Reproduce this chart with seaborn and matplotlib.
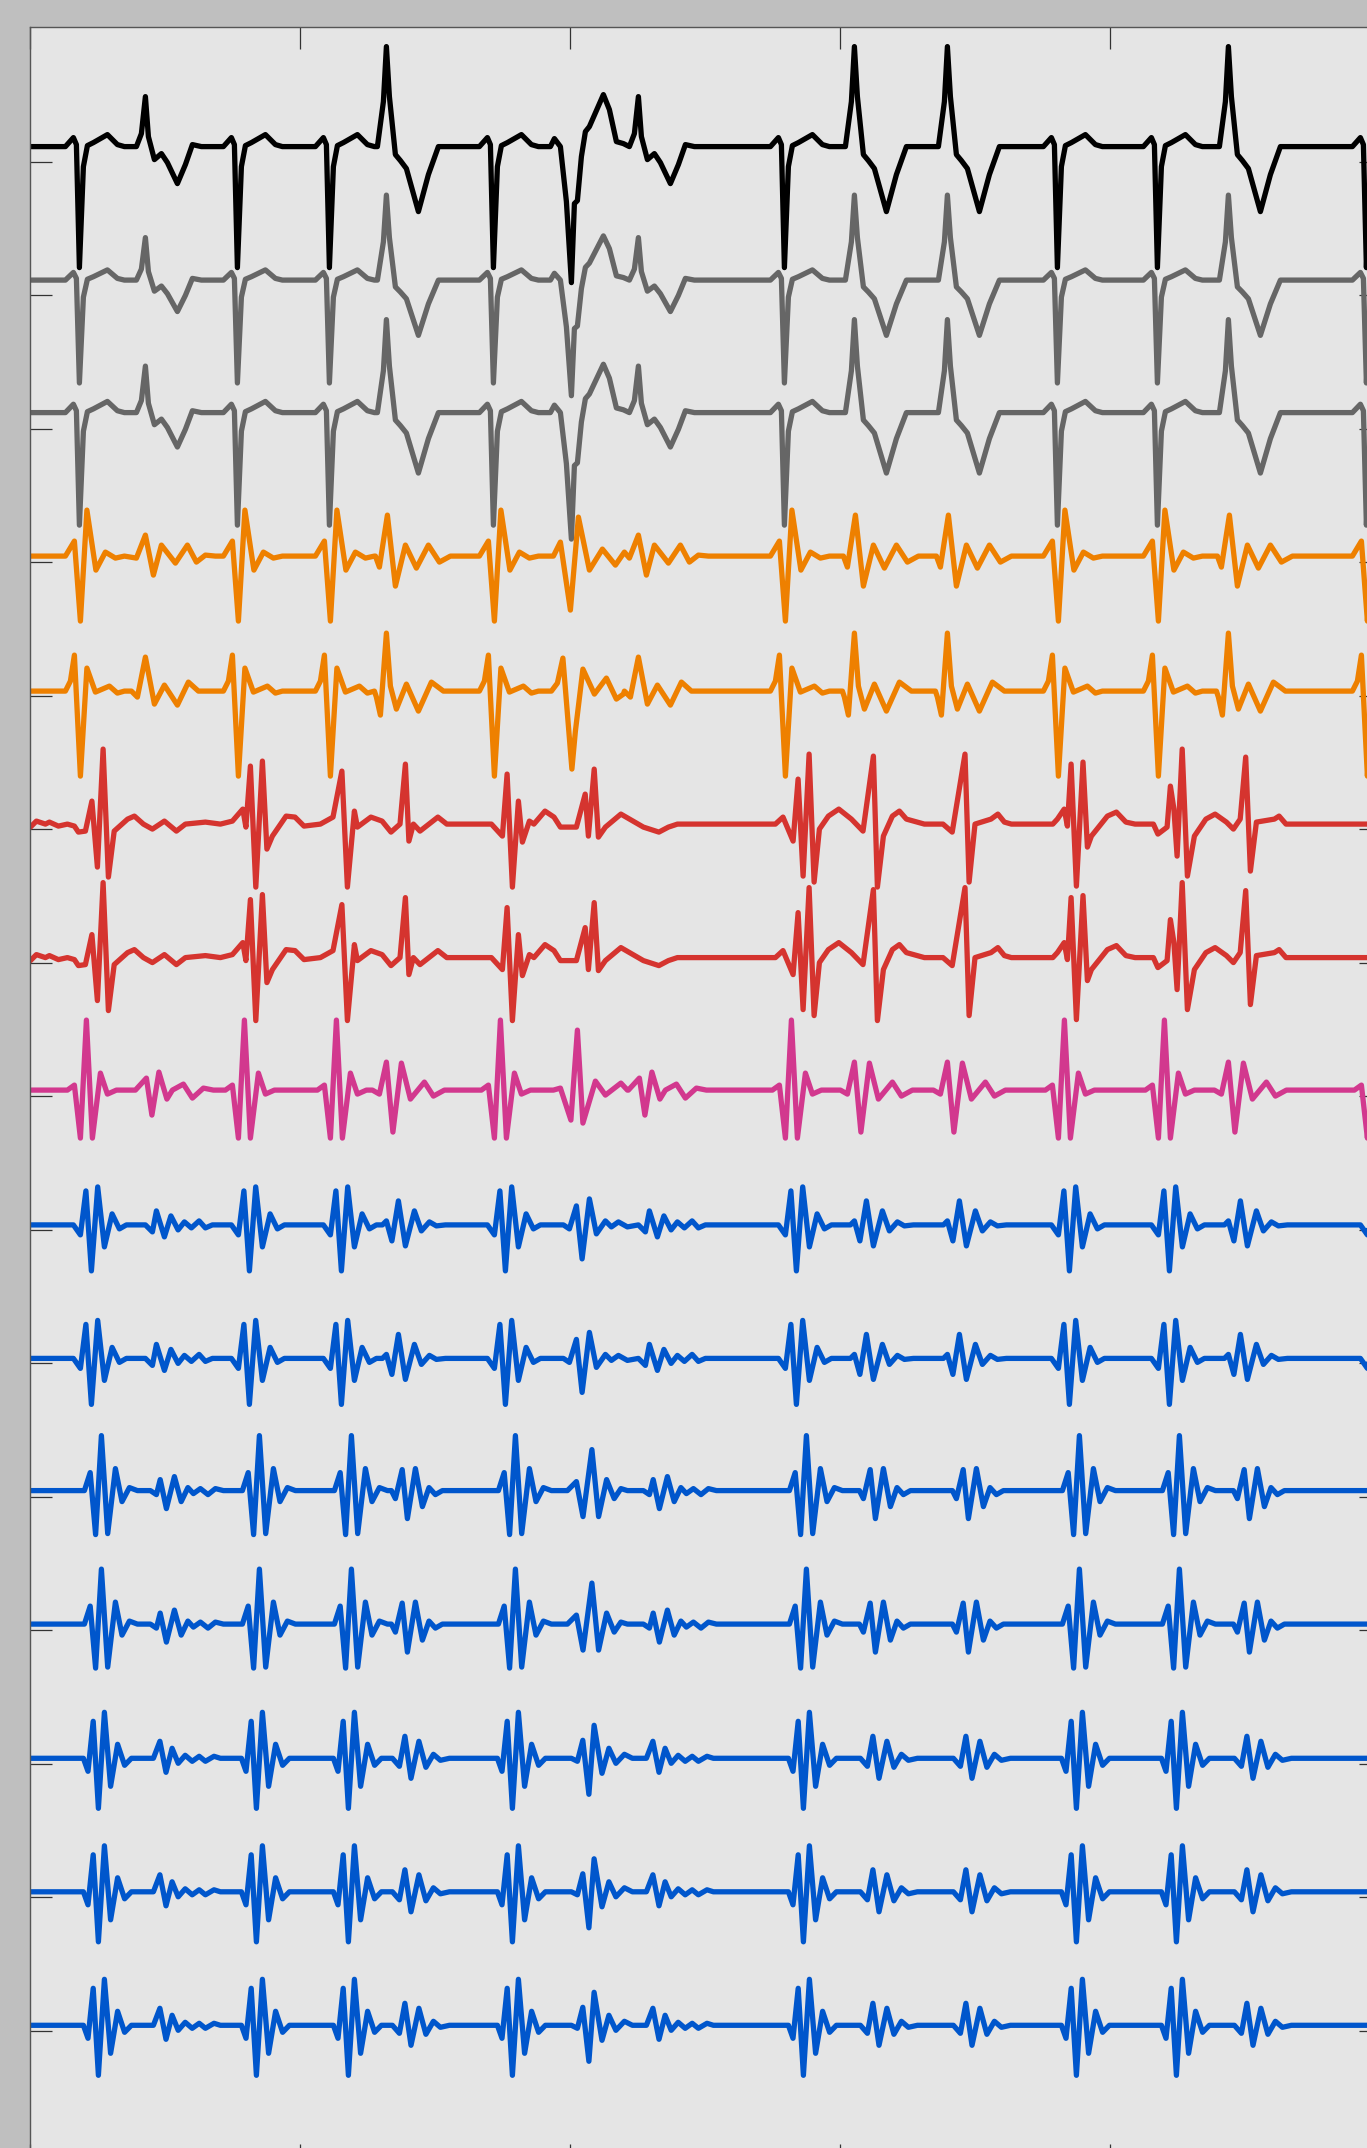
import matplotlib
matplotlib.use("Agg")
import matplotlib.pyplot as plt
import numpy as np
import seaborn as sns

# ---- beat timing (samples from start of strip) ----
N_TIMES = [49, 207, 299, 463, 754, 1027, 1127, 1336]   # narrow beats
V_TIMES = [356, 824, 917, 1198]                         # broad beats
S_TIMES = [115, 608]                                    # small late beats
F_TIMES = [541]                                         # fused beat
END = 1351

# ---- surface ECG shapes (offset from beat, amplitude) ----
ECG_N_DT = [-14, -6, -3, 0, 4, 8, 14, 28, 38, 45]
ECG_N_DY = [0, 9, 2, -121, -20, 1, 4, 12, 2, 0]
ECG_V_DT = [-9, -3, 0, 3, 9, 14, 20, 32, 42, 52]
ECG_V_DY = [0, 45, 100, 50, -8, -14, -22, -65, -28, 0]
ECG_S_DT = [-9, -4, 0, 3, 9, 16, 22, 32, 40, 47, 56]
ECG_S_DY = [0, 13, 50, 10, -13, -7, -16, -37, -18, 2, 0]
ECG_F_DT = [-21, -17, -11, -5, 0, 3, 6, 10, 14, 18, 32, 38, 45, 52]
ECG_F_DY = [0, 8, 0, -55, -136, -57, -54, -10, 15, 20, 52, 37, 5, 3]

# ---- orange channel A ----
OR1_N_DT = [-14, -5, 1, 7.5, 16.5, 26, 36, 45]
OR1_N_DY = [0, 15, -65, 46, -14, 4, -2, 0]
OR1_V_DT = [-11, -7, 1, 9, 19, 30, 42, 53, 64]
OR1_V_DY = [0, -11, 41, -30, 11, -12, 11, -6, 0]
OR1_S_DT = [-9, 0, 8, 16, 30, 42, 51, 60, 70]
OR1_S_DY = [-2, 21, -19, 11, -7, 11, -6, 1, 0]
OR1_F_DT = [-18, -11, -1, 7, 18, 31, 44, 53]
OR1_F_DY = [0, 14, -54, 39, -14, 7, -9, 4]

# ---- orange channel B ----
OR2_N_DT = [-14, -9, -5, 1, 7.5, 16, 30, 38, 45]
OR2_N_DY = [0, 10, 36, -85, 23, -1, 5, -2, 0]
OR2_V_DT = [-12, -10, -6, 0, 4, 10, 20, 32, 45, 57]
OR2_V_DY = [0, -6, -24, 58, 5, -18, 7, -20, 9, 0]
OR2_S_DT = [-14, -8, 0, 9, 19, 32, 43, 53]
OR2_S_DY = [0, -6, 34, -13, 6, -14, 9, 0]
OR2_F_DT = [-20, -14, -8.5, 0.5, 4, 11.5, 23, 35, 45, 52]
OR2_F_DY = [0, 8, 33, -78, -40, 22, -3, 13, -8, -3]

# ---- red channels (full strip) ----
RED_T = [0, 6, 15, 19, 28, 37, 44, 48, 55, 61.5, 67, 72.7, 78, 83.8, 88.3, 97.2, 104, 113, 122, 134, 146, 155, 175, 190,
         202, 212.4, 215.5, 220, 225.4, 232, 236.5, 242, 255.7, 264.6, 273.6, 290,
         302.6, 311.5, 317, 324, 327, 340.5, 351.7, 360.6, 369.6, 375, 378.5, 383, 389.6, 407.5, 416.4, 440, 461,
         472, 476.7, 482, 488, 492, 499, 503.5, 514.6, 523.6, 530, 546, 554.8, 558, 563.8, 568, 575, 590.5, 613, 628.5, 638, 647, 700, 745,
         752.6, 762.7, 767.7, 772.7, 778.7, 783.7, 789, 798, 808.4, 821, 832.6, 843, 847, 853, 862, 869, 876, 894, 912.6, 921.8, 934.6, 938.7, 944.6, 960.6, 967.5, 974, 981,
         1022.4, 1027, 1033.8, 1037, 1040.7, 1046, 1052.6, 1057, 1061, 1077, 1086, 1095.5, 1104.7,
         1123, 1127.5, 1136.7, 1140, 1143.5, 1146.7, 1151.8, 1157, 1164, 1168.7, 1175.5, 1184.7, 1196, 1203, 1209.8, 1215.3, 1220, 1226, 1244, 1248.7, 1255.6, 1351]
RED_DY = [-3, 3, 0, 2, -2, 0, -2, -8, -7, 23, -43, 75, -53, -7, -3, 5, 8, 0, -5, 3, -7, 0, 2, 0,
          3, 15, -3, 58, -63, 63, -25, -12, 8, 7, -2, 0,
          7, 53, -63, 13, -3, 7, 3, -8, 0, 60, -17, 0, -7, 7, 0, 0, 0,
          -12, 50, -63, 23, -18, 3, 0, 13, 7, -3, -3, 30, -12, 55, -13, -3, 10, -3, -8, -3, 0, 0, 0,
          7, -17, 45, -52, 70, -58, -5, 8, 15, 5, -7, 68, -63, -12, 8, 13, 5, 0, 0, -8, 70, -58, 0, 5, 10, 2, 0,
          0, 5, 15, -2, 60, -62, 62, -23, -12, 8, 12, 2, 0,
          0, -10, -3, 38, 15, -32, 75, -52, -12, -5, 5, 10, 2, -5, 5, 67, -47, 2, 5, 8, 0, 0]

# ---- magenta channel ----
MAG_N_DT = [-12, -5, 1, 7, 13, 21, 28, 37]
MAG_N_DY = [0, 5, -48, 70, -48, 17, -4, 0]
MAG_V_DT = [-14, -7, 0, 6.5, 15, 24, 38, 47, 58]
MAG_V_DY = [0, -4, 28, -42, 27, -9, 8, -6, 0]
MAG_S_DT = [-10, 1, 6.5, 13.5, 21.5, 27, 38, 47, 58, 68]
MAG_S_DY = [0, 12, -25, 18, -9, 0, 6, -8, 2, 0]
MAG_F_DT = [-18, -11, -0.5, 6, 11.5, 24, 34, 49.5, 56]
MAG_F_DY = [0, 2, -30, 60, -33, 9, -5, 7, 0]

# ---- blue channels, three groups ----
B1_N_DT = [-6, 1, 6.5, 12, 18.3, 25, 32.7, 40, 47]
B1_N_DY = [0, -10, 34, -46, 38, -22, 11, -4, 0]
B1_V_DT = [-4, 0, 5.5, 12, 19, 28, 35, 43, 50, 59]
B1_V_DY = [0, 4, -16, 24, -21, 14, -6, 3, -1, 0]
B1_S_DT = [0, 7, 11, 19, 25.5, 32.7, 39, 46, 53.7, 60, 67]
B1_S_DY = [0, -7, 14, -12, 9, -5, 3, -3, 4, -3, 0]
B1_F_DT = [-8, -2, 5, 10.7, 18, 25, 34, 40, 47, 56]
B1_F_DY = [0, -4, 19, -34, 26, -9, 4, -2, 3, -2]

B2_N_DT = [5, 10.8, 16.2, 22, 28.3, 36, 42.6, 50, 58]
B2_N_DY = [0, 18, -44, 55, -43, 22, -11, 3, 0]
B2_V_DT = [5, 9, 15.8, 21, 29, 36, 42.6, 49, 56]
B2_V_DY = [0, -8, 21, -28, 22, -16, 3, -4, 0]
B2_S_DT = [5, 11, 14.8, 21, 29, 35.8, 42.5, 48, 55, 62.6, 70, 78]
B2_S_DY = [0, -4, 11, -18, 14, -11, 3, -3, 2, -4, 2, 0]
B2_F_DT = [-4, 5, 11.6, 20.5, 27.2, 35.2, 42.8, 49.5, 56]
B2_F_DY = [0, 9, -26, 41, -26, 11, -8, 2, 0]

B3_N_DT = [4, 8.6, 13.8, 19, 25, 31.2, 38.2, 45.2, 52]
B3_N_DY = [0, -13, 37, -50, 46, -28, 14, -7, 0]
B3_V_DT = [6, 13, 18.5, 24.6, 32.5, 39.5, 47, 54, 63]
B3_V_DY = [0, -8, 22, -20, 17, -9, 4, -2, 0]
B3_S_DT = [8, 14.5, 20.6, 26.7, 32.8, 39.8, 46.8, 53.8, 60, 68.6, 75]
B3_S_DY = [0, 17, -14, 10, -5, 3, -3, 2, -3, 2, 0]
B3_F_DT = [0, 6, 11.4, 17.5, 22.7, 30.6, 37.5, 44.5, 53, 61]
B3_F_DY = [0, -3, 18, -36, 33, -15, 10, -5, 4, 0]

# ---- channel list, top to bottom ----
TRACE_KIND = ["ecg", "ecg", "ecg", "or1", "or2", "red", "red", "mag",
              "b1", "b1", "b2", "b2", "b3", "b3", "b3"]
TRACE_GAIN = [1.0, 0.85, 0.93, 1, 1, 1, 1, 1, 1, 1, 1, 1, 1, 1, 1]
TRACE_SHIFT = [15, 15, 16, 6, 4.5, 5, 5, 6, 4.7, 4.7, 6, 6, 5.3, 5.3, 5.3]
TRACE_COLOR = ["#000000", "#666666", "#666666", "#ee8000", "#ee8000",
               "#d5342f", "#d5342f", "#d2388e"] + ["#0056cc"] * 7

SPACING = 133.5

SHAPES = {
    "ecg": {"N": (ECG_N_DT, ECG_N_DY), "V": (ECG_V_DT, ECG_V_DY),
            "S": (ECG_S_DT, ECG_S_DY), "F": (ECG_F_DT, ECG_F_DY)},
    "or1": {"N": (OR1_N_DT, OR1_N_DY), "V": (OR1_V_DT, OR1_V_DY),
            "S": (OR1_S_DT, OR1_S_DY), "F": (OR1_F_DT, OR1_F_DY)},
    "or2": {"N": (OR2_N_DT, OR2_N_DY), "V": (OR2_V_DT, OR2_V_DY),
            "S": (OR2_S_DT, OR2_S_DY), "F": (OR2_F_DT, OR2_F_DY)},
    "mag": {"N": (MAG_N_DT, MAG_N_DY), "V": (MAG_V_DT, MAG_V_DY),
            "S": (MAG_S_DT, MAG_S_DY), "F": (MAG_F_DT, MAG_F_DY)},
    "b1": {"N": (B1_N_DT, B1_N_DY), "V": (B1_V_DT, B1_V_DY),
           "S": (B1_S_DT, B1_S_DY), "F": (B1_F_DT, B1_F_DY)},
    "b2": {"N": (B2_N_DT, B2_N_DY), "V": (B2_V_DT, B2_V_DY),
           "S": (B2_S_DT, B2_S_DY), "F": (B2_F_DT, B2_F_DY)},
    "b3": {"N": (B3_N_DT, B3_N_DY), "V": (B3_V_DT, B3_V_DY),
           "S": (B3_S_DT, B3_S_DY), "F": (B3_F_DT, B3_F_DY)},
}
BEATS = {"N": N_TIMES, "V": V_TIMES, "S": S_TIMES, "F": F_TIMES}


def build_trace(kind):
    if kind == "red":
        return np.array(RED_T, float), np.array(RED_DY, float)
    pts = [(0.0, 0.0), (float(END), 0.0)]
    for label, times in BEATS.items():
        dt, dy = SHAPES[kind][label]
        for t0 in times:
            pts += [(t0 + a, b) for a, b in zip(dt, dy)]
    pts.sort(key=lambda p: p[0])
    t, y = zip(*pts)
    return np.array(t), np.array(y)


fig = plt.figure(figsize=(13.67, 21.48), dpi=100, facecolor="#bfbfbf")
ax = fig.add_axes([30.4 / 1367, -18 / 2148, 1350.6 / 1367, 2138.6 / 2148])
ax.set_facecolor("#e5e5e5")

for i, kind in enumerate(TRACE_KIND):
    t, dy = build_trace(kind)
    y = (14 - i) * SPACING + TRACE_SHIFT[i] + TRACE_GAIN[i] * dy
    sns.lineplot(x=t, y=y, sort=False, estimator=None, color=TRACE_COLOR[i],
                 lw=3.8, solid_joinstyle="round", solid_capstyle="round", ax=ax)

ax.set_xlim(0, 1350.6)
ax.set_ylim(-135.4, 2003.2)
ax.set_xticks(np.arange(0, 1351, 270))
ax.set_yticks(np.arange(15) * SPACING)
ax.tick_params(direction="in", length=15.8, width=0.9, color="#333333",
               top=True, right=True, labelbottom=False, labelleft=False)
for s in ax.spines.values():
    s.set_color("#555555")
    s.set_linewidth(1.0)
ax.set_xlabel("")
ax.set_ylabel("")

fig.savefig("out.png", dpi=100, facecolor=fig.get_facecolor())
